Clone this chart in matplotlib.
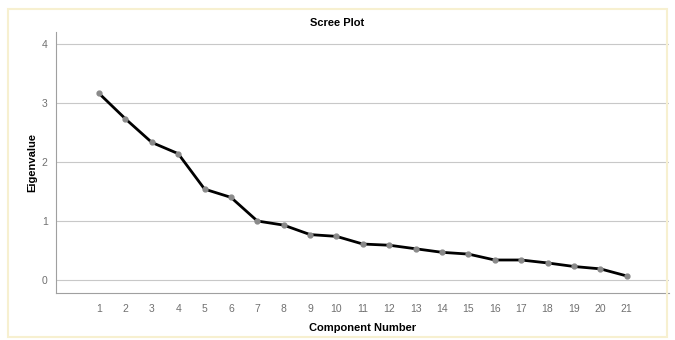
import matplotlib
matplotlib.use("Agg")
import matplotlib.pyplot as plt
from matplotlib.patches import Rectangle

# eigenvalues
components = list(range(1, 22))
eigenvalues = [3.16, 2.73, 2.33, 2.14, 1.54, 1.40, 1.00, 0.93, 0.77, 0.74,
               0.61, 0.59, 0.53, 0.47, 0.44, 0.34, 0.34, 0.29, 0.23, 0.19, 0.07]
y_ticks = [0, 1, 2, 3, 4]

plt.rcParams["font.family"] = ["Liberation Sans", "DejaVu Sans"]


def main():
    fig = plt.figure(figsize=(6.75, 3.4), dpi=100)
    ax = fig.add_axes([0.083, 0.138, 0.908, 0.768])

    # faint yellow frame around the whole picture
    fig.patches.append(Rectangle((0.012, 0.01), 0.976, 0.965, transform=fig.transFigure,
                                 fill=False, edgecolor="#f7f0d0", linewidth=1.5))

    for y in y_ticks:
        ax.axhline(y, color="#c8c8c8", linewidth=0.8, zorder=0)

    ax.plot(components, eigenvalues, color="black", linewidth=2,
            marker="o", markersize=3.5, markerfacecolor="#8a8a8a",
            markeredgecolor="#8a8a8a", zorder=3)

    ax.set_xlim(-0.63, 22.6)
    ax.set_ylim(-0.22, 4.2)
    ax.set_xticks(components)
    ax.set_yticks(y_ticks)
    ax.tick_params(length=0, labelsize=7.5, labelcolor="#707070", pad=6)
    ax.tick_params(axis="x", pad=8)

    for side in ["top", "right"]:
        ax.spines[side].set_visible(False)
    for side in ["left", "bottom"]:
        ax.spines[side].set_color("#a0a0a0")
        ax.spines[side].set_linewidth(0.8)

    fig.text(0.5, 0.932, "Scree Plot", ha="center", va="center",
             fontsize=8, fontweight="bold")
    ax.set_ylabel("Eigenvalue", fontsize=8, fontweight="bold", labelpad=3)
    ax.set_xlabel("Component Number", fontsize=8, fontweight="bold", labelpad=6)

    fig.savefig("out.png", dpi=100)


if __name__ == "__main__":
    main()
